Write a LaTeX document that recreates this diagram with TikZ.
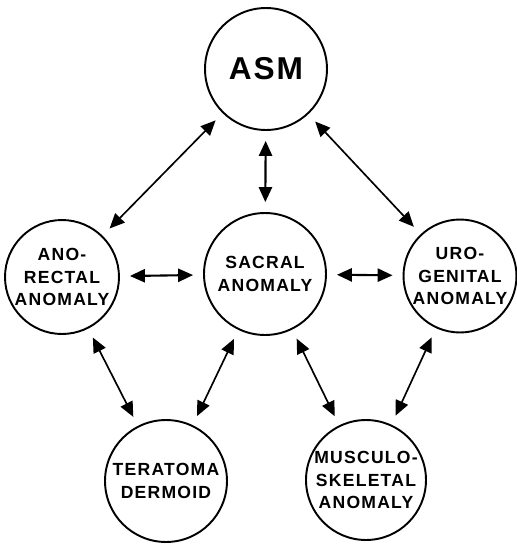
\documentclass[tikz,border=0pt]{standalone}
\usepackage{fontspec}
\setmainfont{Liberation Sans}
\newfontfamily\labfont[LetterSpace=7]{Liberation Sans}
\newfontfamily\bigfont[LetterSpace=6]{Liberation Sans}
\usetikzlibrary{arrows.meta}
\begin{document}
\begin{tikzpicture}[x=0.02cm,y=-0.02cm,
  blob/.style={draw,circle,line width=1.1pt,inner sep=0pt,align=center,
    font=\labfont\bfseries\fontsize{10}{13}\selectfont},
  arr/.style={{Triangle[length=8.5pt,width=7.5pt]}-{Triangle[length=8.5pt,width=7.5pt]},
    line width=0.95pt,shorten >=0.2cm,shorten <=0.2cm},
  arrthick/.style={arr,line width=1.2pt}]
\useasboundingbox (0,0) rectangle (517,545);
\node[blob,minimum size=2.44cm,font=\bigfont\bfseries\fontsize{18}{20}\selectfont] (asm) at (266,69) {ASM};
\node[blob,minimum size=2.28cm] (ano) at (62,277) {ANO-\\RECTAL\\ANOMALY};
\node[blob,minimum size=2.44cm] (sac) at (265,274) {SACRAL\\ANOMALY};
\node[blob,minimum size=2.26cm] (uro) at (460,276) {URO-\\GENITAL\\ANOMALY};
\node[blob,minimum size=2.44cm] (ter) at (166,481) {TERATOMA\\DERMOID};
\node[blob,minimum size=2.40cm] (mus) at (366,480) {MUSCULO-\\SKELETAL\\ANOMALY};
\draw[arr] (asm) -- (ano);
\draw[arr] (asm) -- (uro);
\draw[arrthick] (asm) -- (sac);
\draw[arrthick] (ano) -- (sac);
\draw[arrthick] (sac) -- (uro);
\draw[arr] (ano) -- (ter);
\draw[arr] (sac) -- (ter);
\draw[arr] (sac) -- (mus);
\draw[arr] (uro) -- (mus);
\end{tikzpicture}
\end{document}
